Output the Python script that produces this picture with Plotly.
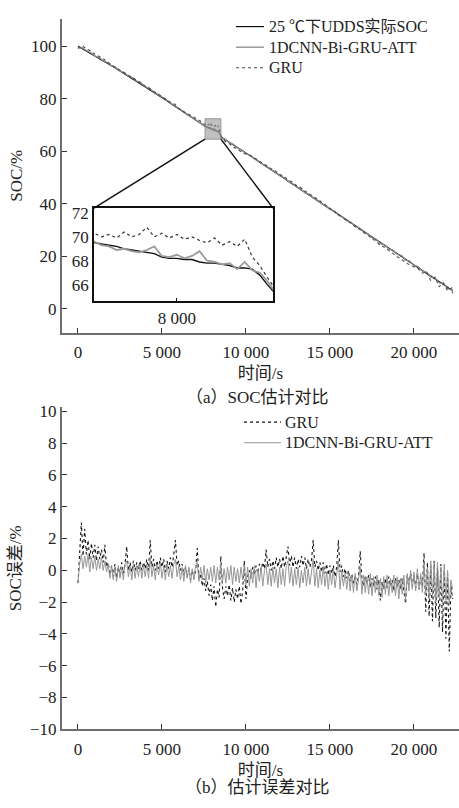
import plotly.graph_objects as go

FONT = "Liberation Serif, Times New Roman, Noto Sans CJK SC, serif"

# ---------------- data ----------------
# time grid for panel (a): coarse, dense inside zoom window, coarse
t_main = list(range(0, 7501, 250)) + list(range(7560, 8521, 40)) + list(range(8750, 22251, 250)) + [22300]

soc_actual = [100.0, 99.1, 98.2, 97.3, 96.3, 95.4, 94.5, 93.5, 92.5, 91.6,
              90.6, 89.6, 88.6, 87.7, 86.7, 85.7, 84.6, 83.7, 82.6, 81.5,
              80.4, 79.4, 78.3, 77.2, 76.1, 75.0, 73.9, 72.8, 71.8, 70.7, 69.7,
              69.5, 69.4, 69.3, 69.2, 69.0, 68.9, 68.8, 68.7, 68.6, 68.3,
              68.2, 68.2, 68.1, 68.1, 67.9, 67.8, 67.8, 67.7, 67.6, 67.4,
              67.4, 67.3, 66.8, 66.0, 65.3,
              64.5, 63.5, 62.4, 61.4, 60.3, 59.3, 58.2, 57.2, 56.1, 55.1,
              54.0, 53.0, 51.9, 50.8, 49.8, 48.7, 47.6, 46.6, 45.5, 44.4,
              43.4, 42.3, 41.2, 40.2, 39.1, 38.0, 37.0, 35.9, 34.8, 33.8,
              32.7, 31.6, 30.6, 29.5, 28.4, 27.4, 26.3, 25.2, 24.2, 23.1,
              22.0, 21.0, 19.9, 18.8, 17.8, 16.7, 15.6, 14.6, 13.5, 12.4,
              11.4, 10.3, 9.2, 8.1, 7.0, 6.8]

soc_cnn = [99.3, 99.5, 98.4, 97.6, 96.3, 95.7, 94.6, 93.8, 92.6, 91.9,
           90.6, 89.9, 88.7, 88.0, 86.7, 86.0, 84.6, 84.0, 82.7, 81.7,
           80.5, 79.7, 78.3, 77.5, 76.2, 75.3, 73.9, 73.1, 71.9, 71.0, 69.8,
           69.6, 69.3, 69.2, 68.9, 69.0, 68.8, 68.7, 68.9, 69.2, 68.4,
           68.3, 68.5, 68.2, 68.4, 68.8, 68.0, 67.9, 67.7, 67.8, 67.3,
           67.9, 67.2, 67.0, 66.3, 65.4,
           64.6, 63.4, 62.6, 61.3, 60.5, 59.2, 58.4, 57.1, 56.3, 55.0,
           54.2, 52.9, 52.1, 50.7, 50.0, 48.6, 47.8, 46.4, 45.7, 44.2,
           43.6, 42.1, 41.4, 40.0, 39.3, 37.8, 37.2, 35.6, 35.0, 33.5,
           32.9, 31.3, 30.8, 29.2, 28.6, 27.0, 26.5, 24.8, 24.4, 22.8,
           22.3, 20.7, 20.3, 18.5, 18.1, 16.5, 16.0, 14.3, 13.9, 12.0,
           11.8, 9.8, 9.6, 7.5, 7.3, 6.5]

soc_gru = [99.2, 100.3, 99.0, 98.3, 97.0, 96.2, 95.3, 94.1, 92.8, 91.9,
           90.9, 90.0, 88.7, 87.9, 87.0, 86.1, 84.8, 84.1, 82.8, 82.0,
           80.7, 79.6, 78.7, 78.0, 76.4, 75.2, 74.4, 73.6, 72.6, 71.6, 70.6,
           70.3, 70.0, 70.2, 69.9, 70.4, 70.0, 70.2, 70.8, 70.0, 70.3,
           69.9, 70.2, 69.8, 70.0, 69.7, 69.5, 69.9, 69.3, 69.6, 69.2,
           69.8, 68.3, 67.6, 66.6, 65.7,
           63.8, 62.9, 61.6, 60.8, 59.5, 58.9, 58.5, 57.4, 56.6, 55.3,
           54.5, 53.3, 52.5, 51.2, 50.4, 49.1, 48.3, 47.0, 46.2, 44.9,
           44.0, 42.8, 41.8, 40.6, 39.5, 38.3, 37.2, 36.0, 34.9, 33.5,
           32.6, 31.2, 30.3, 29.0, 28.1, 26.6, 25.8, 24.0, 23.4, 22.1,
           20.9, 19.8, 18.9, 17.6, 16.7, 16.0, 15.2, 13.5, 14.0, 10.6,
           12.0, 8.4, 9.8, 6.9, 7.9, 5.8]

# time grid for panel (b)
t_err = list(range(0, 22301, 100))

err_gru = [-0.8, 1.2, 3.0, 0.9, 2.6, 1.0, 1.9, 0.7, 1.7, 0.8, 1.6, 0.6, 1.5, 0.7, 1.3, 0.5, 1.6, 0.2, 0.5, -0.3,
           0.3, -0.4, 0.4, -0.5, 0.2, -0.3, 0.5, -0.2, 0.4, 1.5, 0.0, 0.5, -0.1, 0.6, 0.0, 0.5, 0.1, 0.6, 0.0, 0.5,
           0.1, 0.7, 0.0, 1.9, 0.2, 0.7, 0.0, 0.6, 0.1, 0.8, 0.2, 0.7, -0.1, 0.6, 0.1, 0.8, 0.2, 1.0, 1.9, 0.3,
           0.6, 0.0, 0.4, -0.3, 0.2, -0.4, 0.1, -0.6, 0.0, -0.5, 0.0, 1.4, -0.6, -0.2, -1.0, -0.5, -1.3, -0.7, -1.6, -0.9,
           -1.9, -1.0, -2.3, -1.2, -1.7, 0.9, -1.1, -1.8, -1.0, -1.6, -0.9, -1.9, -1.1, -2.0, -1.2, -1.8, -1.0, -2.1, -1.3, 0.6,
           -1.8, -0.4, 0.0, -0.5, 0.2, -0.3, 0.3, -0.2, 0.4, 0.0, 0.5, 0.1, 1.3, 0.2, 0.7, 0.0, 0.6, 0.1, 0.8, 0.2,
           0.7, 0.1, 0.9, 0.2, 0.8, 1.5, 0.3, 0.9, 0.2, 0.8, 0.1, 0.7, 0.2, 0.9, 0.3, 0.8, 0.1, 0.7, 0.2, 0.6,
           1.9, 0.2, 0.6, 0.0, 0.5, -0.1, 0.5, -0.2, 0.4, -0.3, 0.3, -0.2, 0.3, -0.4, 0.2, 1.9, -0.1, 0.3, -0.4, 0.1,
           -0.5, 0.0, -0.7, -0.2, -0.8, -0.3, -0.9, -0.4, 1.2, -0.5, -1.0, -0.4, -0.9, -0.3, -1.1, -0.5, -1.0, -0.4, -1.2, -0.6,
           -1.9, -0.7, -1.2, -0.5, -1.1, -0.4, -1.0, -0.6, -1.3, -0.5, -1.1, -0.6, -1.2, -0.5, -1.3, -2.1, -0.3, -0.9, -0.2, -1.0,
           -0.3, -1.1, -0.2, -1.2, -0.4, -1.0, 1.1, -2.6, 0.5, -2.9, 0.3, -3.2, 0.6, -3.0, 0.2, -3.6, 0.4, -3.9, 0.0, -4.3,
           -0.2, -5.1, -1.0, -1.8]

err_cnn = [-0.8, 0.4, 1.0, 0.1, 0.9, 0.2, 1.0, -0.1, 0.8, 0.1, 0.9, 0.0, 0.7, 0.1, 0.8, 0.0, 0.6, -0.1, 0.4, -0.5,
           0.3, -0.6, 0.2, -0.7, 0.3, -0.5, 0.2, -0.6, 0.4, 0.6, -0.4, 0.3, -0.6, 0.4, -0.5, 0.3, -0.4, 0.4, -0.5, 0.3,
           -0.4, 0.4, -0.5, 0.8, -0.4, 0.3, -0.6, 0.4, -0.3, 0.5, -0.5, 0.3, -0.6, 0.4, -0.4, 0.3, -0.5, 0.4, 0.7, -0.4,
           0.3, -0.6, 0.2, -0.7, 0.3, -0.5, 0.2, -0.8, 0.1, -0.6, 0.3, 0.5, -0.7, 0.2, -0.6, 0.3, -0.8, 0.1, -0.6, 0.2,
           -0.7, 0.3, -0.8, 0.2, -0.6, 0.4, -0.7, 0.1, -0.8, 0.2, -0.6, 0.3, -0.9, 0.2, -0.7, 0.1, -0.8, 0.2, -0.6, 0.3,
           -0.9, 0.2, -1.0, 0.1, -0.8, 0.3, -1.1, 0.1, -0.7, 0.2, -1.0, 0.0, 0.4, -0.9, 0.1, -1.0, 0.2, -0.8, 0.1, -1.1,
           0.2, -0.9, 0.1, -1.0, 0.3, 0.6, -0.8, 0.2, -1.0, 0.1, -0.9, 0.2, -1.1, 0.0, -0.8, 0.2, -1.0, 0.1, -0.9, 0.0,
           0.7, -1.0, 0.1, -1.1, 0.0, -0.9, 0.2, -1.0, -0.1, -1.2, 0.0, -0.9, 0.1, -1.1, -0.1, 0.6, -1.2, 0.0, -1.0, -0.2,
           -1.2, -0.2, -1.3, -0.3, -1.4, -0.2, -1.3, -0.4, 0.2, -1.5, -0.3, -1.4, -0.4, -1.5, -0.2, -1.6, -0.4, -1.4, -0.3, -1.6,
           -0.5, -1.7, -0.4, -1.5, -0.3, -1.6, -0.5, -1.4, -0.3, -1.6, -0.4, -1.8, -0.5, -1.5, -0.3, -1.9, -0.2, -1.3, 0.0, -1.2,
           -0.1, -1.3, 0.1, -1.2, -0.2, -1.4, 0.5, -1.5, 0.2, -1.8, 0.6, -1.6, 0.3, -2.0, 0.5, -1.7, 0.2, -2.1, 0.4, -1.9,
           0.0, -2.2, -0.6, -1.2]

x_tickvals = [0, 5000, 10000, 15000, 20000]
x_ticktext = ["0", "5 000", "10 000", "15 000", "20 000"]
soc_ticks = [0, 20, 40, 60, 80, 100]
err_ticks = [-10, -8, -6, -4, -2, 0, 2, 4, 6, 8, 10]
inset_yticks = [66, 68, 70, 72]
inset_xticks = [8000]
inset_xticktext = ["8 000"]

names_a = ["25 ℃下UDDS实际SOC", "1DCNN-Bi-GRU-ATT", "GRU"]
names_b = ["GRU", "1DCNN-Bi-GRU-ATT"]

# ---------------- layout geometry ----------------
W, H = 459, 808
FS = 17
FS_LEG = 16
XR = [-952, 22680]
X_DOM = [62 / W, 1.0]
YR_A = [-9.2, 110.5]
Y_DOM_A = [(H - 334) / H, (H - 14) / H]
YR_B = [-10, 10.25]
Y_DOM_B = [(H - 738) / H, (H - 410) / H]
INS_XR = [7560, 8510]
INS_YR = [64.6, 72.4]
INS_XDOM = [94 / W, 273 / W]
INS_YDOM = [(H - 302) / H, (H - 207) / H]

fig = go.Figure()

# panel (a) main
styles_a = [dict(color="#111111", width=1.2),
            dict(color="#8a8a8a", width=1.3),
            dict(color="#4a4a4a", width=1.1, dash="dot")]
for nm, ys, st in zip(names_a, [soc_actual, soc_cnn, soc_gru], styles_a):
    fig.add_trace(go.Scatter(x=t_main, y=ys, mode="lines", name=nm, line=st,
                             xaxis="x", yaxis="y", showlegend=False))
# panel (a) inset
styles_i = [dict(color="#111111", width=1.4),
            dict(color="#9a9a9a", width=1.8),
            dict(color="#333333", width=1.2, dash="dot")]
for nm, ys, st in zip(names_a, [soc_actual, soc_cnn, soc_gru], styles_i):
    fig.add_trace(go.Scatter(x=t_main, y=ys, mode="lines", name=nm, line=st,
                             xaxis="x3", yaxis="y3", showlegend=False))

# panel (b)
styles_b = [dict(color="#151515", width=1.1, dash="dot"),
            dict(color="#969696", width=1.0)]
for nm, ys, st in zip(names_b, [err_gru, err_cnn], styles_b):
    fig.add_trace(go.Scatter(x=t_err, y=ys, mode="lines", name=nm, line=st,
                             xaxis="x2", yaxis="y2", showlegend=False))

tickfont = dict(family=FONT, size=FS, color="#222")
axis_common = dict(showline=True, linecolor="#6e6e6e", linewidth=2, ticks="inside",
                   ticklen=5, tickcolor="#333", tickwidth=1.2, showgrid=False, zeroline=False,
                   tickfont=tickfont)
xtitle = dict(text="时间/s", font=dict(family=FONT, size=FS), standoff=6)

fig.update_layout(
    width=W, height=H, margin=dict(l=0, r=0, t=0, b=0),
    paper_bgcolor="white", plot_bgcolor="rgba(0,0,0,0)",
    font=dict(family=FONT, color="#222"), showlegend=False,
    xaxis=dict(domain=X_DOM, range=XR, anchor="y", tickvals=x_tickvals, ticktext=x_ticktext,
               ticklabelstandoff=3, title=xtitle, **axis_common),
    yaxis=dict(domain=Y_DOM_A, range=YR_A, anchor="x", tickvals=soc_ticks,
               title=dict(text="SOC/%", font=dict(family=FONT, size=FS), standoff=4), **axis_common),
    xaxis2=dict(domain=X_DOM, range=XR, anchor="y2", tickvals=x_tickvals, ticktext=x_ticktext,
                ticklabelstandoff=3, title=xtitle, **axis_common),
    yaxis2=dict(domain=Y_DOM_B, range=YR_B, anchor="x2", tickvals=err_ticks,
                title=dict(text="SOC误差/%", font=dict(family=FONT, size=FS), standoff=4), **axis_common),
    xaxis3=dict(domain=INS_XDOM, range=INS_XR, anchor="y3", tickvals=inset_xticks, ticktext=inset_xticktext,
                showline=True, mirror=True, linecolor="#111", linewidth=1.5, ticks="inside", ticklen=4,
                tickcolor="#111", showgrid=False, zeroline=False, tickfont=tickfont),
    yaxis3=dict(domain=INS_YDOM, range=INS_YR, anchor="x3", tickvals=inset_yticks,
                showline=True, mirror=True, linecolor="#111", linewidth=1.5, ticks="",
                showgrid=False, zeroline=False, tickfont=tickfont),
)

# zoom window rectangle in panel (a)
fig.add_shape(type="rect", xref="x", yref="y", x0=INS_XR[0], x1=INS_XR[1], y0=INS_YR[0], y1=INS_YR[1],
              fillcolor="rgba(140,140,140,0.55)", line=dict(color="#888", width=0.8), layer="above")

def paper_x(t):
    return X_DOM[0] + (t - XR[0]) / (XR[1] - XR[0]) * (X_DOM[1] - X_DOM[0])

def paper_y(v):
    return Y_DOM_A[0] + (v - YR_A[0]) / (YR_A[1] - YR_A[0]) * (Y_DOM_A[1] - Y_DOM_A[0])

for tx, ix in [(INS_XR[0], INS_XDOM[0]), (INS_XR[1], INS_XDOM[1])]:
    fig.add_shape(type="line", xref="paper", yref="paper", x0=paper_x(tx), y0=paper_y(INS_YR[0]),
                  x1=ix, y1=INS_YDOM[1], line=dict(color="#111", width=1.5))

# legends (drawn as key lines + text)
def legend_block(names, styles, x_line0, x_line1, x_text, rows):
    for nm, st, ry in zip(names, styles, rows):
        yp = (H - ry) / H
        fig.add_shape(type="line", xref="paper", yref="paper", x0=x_line0 / W, x1=x_line1 / W,
                      y0=yp, y1=yp, line=st)
        fig.add_annotation(text=nm, xref="paper", yref="paper", x=x_text / W, y=yp,
                           xanchor="left", yanchor="middle", showarrow=False, borderpad=0,
                           font=dict(family=FONT, size=FS_LEG, color="#222"))

legend_block(names_a, styles_a, 236, 264, 268, [22, 43, 64])
legend_block(names_b, styles_b, 244, 281, 284, [425, 446])

# captions
fig.add_annotation(text="（a）SOC估计对比", xref="paper", yref="paper", x=257 / W, y=(H - 400) / H,
                   xanchor="center", yanchor="middle", showarrow=False,
                   font=dict(family=FONT, size=FS, color="#222"))
fig.add_annotation(text="（b）估计误差对比", xref="paper", yref="paper", x=257 / W, y=(H - 797) / H,
                   xanchor="center", yanchor="middle", showarrow=False,
                   font=dict(family=FONT, size=FS, color="#222"))

fig.write_html("out.html")
